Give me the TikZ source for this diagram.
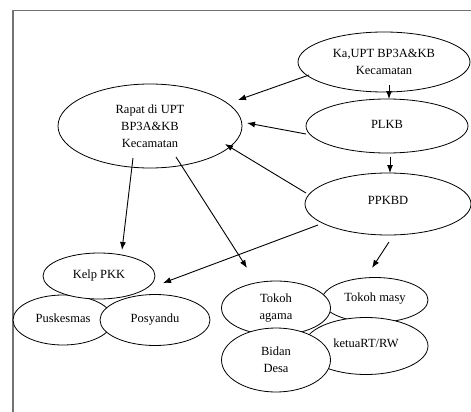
\documentclass[tikz,border=0pt]{standalone}
\usepackage{fontspec}
\setmainfont{Liberation Serif}
\usetikzlibrary{shapes.geometric,arrows.meta}
\begin{document}
\begin{tikzpicture}[x=1pt,y=-1pt,
  oval/.style={ellipse,draw=black,line width=0.8pt,fill=white,inner sep=0pt,align=center,
    font=\fontsize{12.5}{17}\selectfont},
  arr/.style={line width=0.9pt,-{Latex[length=8pt,width=6pt]}},
  frameline/.style={draw=black!55,line width=1.6pt}]
\useasboundingbox (0,0) rectangle (471,412);
\draw[frameline] (13,412) -- (13,10.5) -- (471,10.5);
% top nodes
\node[oval,minimum width=172pt,minimum height=60pt] (ka) at (384,62) {Ka,UPT BP3A\&KB\\Kecamatan};
\node[oval,minimum width=184pt,minimum height=84pt] (rapat) at (150,126) {Rapat di UPT\\BP3A\&KB\\Kecamatan};
\node[oval,minimum width=162pt,minimum height=54pt] (plkb) at (387,126) {\raisebox{4pt}{PLKB}};
\node[oval,minimum width=166pt,minimum height=62pt] (ppkbd) at (388,204) {\raisebox{7pt}{PPKBD}};
% left group
\node[oval,minimum width=100pt,minimum height=50pt] (pusk) at (63,320) {\raisebox{3pt}{Puskesmas}};
\node[oval,minimum width=110pt,minimum height=51pt] (posy) at (155,320) {\raisebox{3pt}{Posyandu}};
\node[oval,minimum width=112pt,minimum height=46pt] (kelp) at (99,276) {\raisebox{4pt}{Kelp PKK}};
% right group
\node[oval,minimum width=106pt,minimum height=45pt] (masy) at (375,300) {\raisebox{5pt}{Tokoh masy}};
\node[oval,minimum width=124pt,minimum height=57pt] (ketua) at (366,346) {\raisebox{6pt}{ketuaRT/RW}};
\node[oval,minimum width=109pt,minimum height=54pt] (agama) at (276,308) {\raisebox{3pt}{\begin{tabular}{@{}c@{}}Tokoh\\agama\end{tabular}}};
\node[oval,minimum width=109pt,minimum height=64pt] (bidan) at (276,360) {Bidan\\Desa};
% connector end points
\coordinate (s1) at (309,75);  \coordinate (e1) at (238,100);
\coordinate (s2) at (389,85);  \coordinate (e2) at (389,99);
\coordinate (s3) at (306,134); \coordinate (e3) at (247,123);
\coordinate (s4) at (390,157); \coordinate (e4) at (390,173);
\coordinate (s5) at (306,193); \coordinate (e5) at (225,144);
\coordinate (s6) at (133,158); \coordinate (e6) at (122,250);
\coordinate (s7) at (176,157); \coordinate (e7) at (247,268);
\coordinate (s8) at (318,225); \coordinate (e8) at (163,283);
\coordinate (s9) at (389,242); \coordinate (e9) at (372,268);
\draw[arr] (s1) -- (e1);
\draw[arr] (s2) -- (e2);
\draw[arr] (s3) -- (e3);
\draw[arr] (s4) -- (e4);
\draw[arr] (s5) -- (e5);
\draw[arr] (s6) -- (e6);
\draw[arr] (s7) -- (e7);
\draw[arr] (s8) -- (e8);
\draw[arr] (s9) -- (e9);
\end{tikzpicture}
\end{document}
